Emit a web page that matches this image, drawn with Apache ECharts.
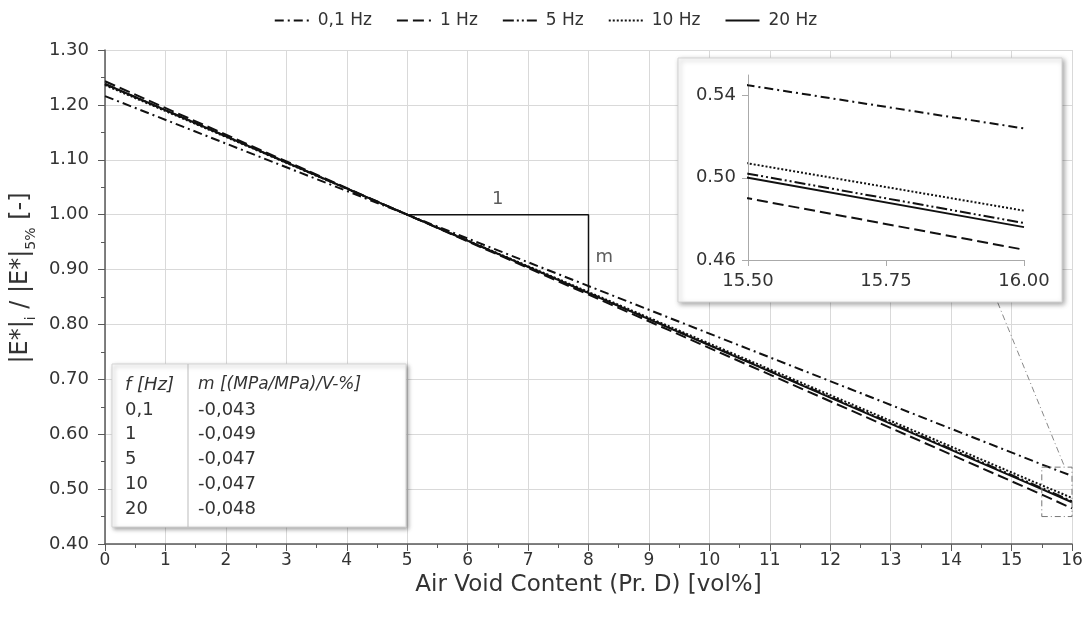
<!DOCTYPE html>
<html><head><meta charset="utf-8">
<script src="https://cdn.jsdelivr.net/npm/echarts@6/dist/echarts.min.js"></script>
<style>html,body{margin:0;padding:0;background:#fff}#c{width:1091px;height:623px}</style>
</head><body><div id="c"></div>
<script>
// Air void content (x) sample points
const xVals = [0, 5, 15.5, 16];
// Normalized modulus |E*|i/|E*|5% per frequency
const s01 = [1.216, 1.0, 0.545, 0.524];
const s1  = [1.243, 1.0, 0.490, 0.465];
const s5  = [1.238, 1.0, 0.502, 0.478];
const s10 = [1.236, 1.0, 0.507, 0.484];
const s20 = [1.238, 1.0, 0.500, 0.476];
const names = ['0,1 Hz', '1 Hz', '5 Hz', '10 Hz', '20 Hz'];
const freqs = ['0,1', '1', '5', '10', '20'];
const slopes = ['-0,043', '-0,049', '-0,047', '-0,047', '-0,048'];
const xTicks = [0,1,2,3,4,5,6,7,8,9,10,11,12,13,14,15,16];
const yTicks = [0.4,0.5,0.6,0.7,0.8,0.9,1.0,1.1,1.2,1.3];
const insetX = [15.5, 15.75, 16.0];
const insetY = [0.46, 0.50, 0.54];
// slope triangle (data coords)
const triangle = [[5, 1.0], [8, 1.0], [8, 0.86]];
// zoom box and connector (data coords)
const zoomBox = [[15.5,0.45],[16,0.45],[16,0.54],[15.5,0.54],[15.5,0.45]];
const connector = [[14.77,0.84],[15.88,0.54]];

const FONT = 'DejaVu Sans';
const TXT = '#333';
const styles = [
  {type:[9,4,2,4], width:2},
  {type:[11,5], width:2},
  {type:[11,3,2,3,2,3], width:2},
  {type:[2,2], width:2},
  {type:'solid', width:2}
];
const all = [s01, s1, s5, s10, s20];
const pts = arr => xVals.map((x,i)=>[x, arr[i]]);

const series = [];
all.forEach((arr,i)=>{
  series.push({name:names[i], type:'line', xAxisIndex:0, yAxisIndex:0, data:pts(arr),
    symbol:'none', silent:true, lineStyle:Object.assign({color:'#111'}, styles[i]),
    itemStyle:{color:'#111', opacity:0}, z:3});
});
all.forEach((arr,i)=>{
  series.push({name:names[i]+' inset', type:'line', xAxisIndex:1, yAxisIndex:1, data:pts(arr),
    symbol:'none', silent:true, lineStyle:Object.assign({color:'#111'}, styles[i]), z:12});
});
series.push({name:'tri', type:'line', xAxisIndex:0, yAxisIndex:0, data:triangle, symbol:'none',
  lineStyle:{color:'#111', width:1.5}, z:4, silent:true});
series.push({name:'box', type:'line', xAxisIndex:0, yAxisIndex:0, data:zoomBox, symbol:'none',
  lineStyle:{color:'#777', width:1, type:[6,3,1,3]}, z:4, silent:true});
series.push({name:'conn', type:'line', xAxisIndex:0, yAxisIndex:0, data:connector, symbol:'none',
  lineStyle:{color:'#888', width:1, type:[6,3,1,3]}, z:4, silent:true});
series.push({name:'lbl', type:'scatter', xAxisIndex:0, yAxisIndex:0, symbolSize:0, silent:true, z:5,
  data:[{value:[6.5,1.0], label:{formatter:'1', position:'top', distance:6}},
        {value:[8.0,0.93], label:{formatter:'m', position:'right', distance:7, offset:[0,4]}}],
  label:{show:true, color:TXT, fontFamily:FONT, fontSize:18}});

const tableChildren = [
  {type:'rect', z:20, shape:{x:0,y:0,width:294,height:163}, style:{fill:'#fff', stroke:'#d4d4d4', lineWidth:1,
    shadowBlur:4, shadowOffsetX:2, shadowOffsetY:2, shadowColor:'rgba(0,0,0,0.35)'}},
  {type:'line', z:21, shape:{x1:76,y1:0,x2:76,y2:163}, style:{stroke:'#bbb', lineWidth:1}},
  {type:'text', z:21, x:13, y:21, style:{text:'f [Hz]', fontFamily:FONT, fontSize:18, fontStyle:'italic', fill:TXT, verticalAlign:'middle'}},
  {type:'text', z:21, x:86, y:21, style:{text:'m [(MPa/MPa)/V-%]', fontFamily:FONT, fontSize:17, fontStyle:'italic', fill:TXT, verticalAlign:'middle'}}
];
freqs.forEach((f,i)=>{
  tableChildren.push({type:'text', z:21, x:13, y:46+i*24.8, style:{text:f, fontFamily:FONT, fontSize:18, fill:TXT, verticalAlign:'middle'}});
  tableChildren.push({type:'text', z:21, x:86, y:46+i*24.8, style:{text:slopes[i], fontFamily:FONT, fontSize:18, fill:TXT, verticalAlign:'middle'}});
});

const option = {
  animation:false,
  backgroundColor:'#fff',
  textStyle:{fontFamily:FONT},
  legend:{data:names, top:7, left:'center', itemWidth:34, itemHeight:10, itemGap:24,
    itemStyle:{opacity:0},
    textStyle:{fontFamily:FONT, fontSize:17, color:TXT, padding:[0,0,0,4]}, selectedMode:false},
  grid:[
    {left:105, right:19, top:50, bottom:79},
    {left:748, right:67, top:75, bottom:363, z:10}
  ],
  xAxis:[
    {type:'value', gridIndex:0, min:0, max:16, interval:1,
     name:'Air Void Content (Pr. D) [vol%]', nameLocation:'middle', nameGap:30,
     nameTextStyle:{fontFamily:FONT, fontSize:23, color:TXT},
     axisLine:{show:true, lineStyle:{color:'#595959', width:1.5}},
     axisTick:{show:true, length:7, lineStyle:{color:'#595959'}},
     minorTick:{show:true, splitNumber:2, length:4, lineStyle:{color:'#595959'}},
     axisLabel:{customValues:xTicks, fontFamily:FONT, fontSize:17, color:TXT, margin:8},
     splitLine:{show:true, lineStyle:{color:'#d9d9d9', width:1}}},
    {type:'value', gridIndex:1, min:15.5, max:16, interval:0.25, z:12,
     axisLine:{show:true, lineStyle:{color:'#aaa', width:1}},
     axisTick:{show:true, length:6, lineStyle:{color:'#aaa'}},
     axisLabel:{customValues:insetX, formatter:v=>v.toFixed(2), fontFamily:FONT, fontSize:18, color:TXT, margin:12},
     splitLine:{show:false}}
  ],
  yAxis:[
    {type:'value', gridIndex:0, min:0.4, max:1.3, interval:0.1,
     name:'{a||E*|}{s|i}{a| / |E*|}{s|5%}{a| [-]}', nameLocation:'middle', nameGap:62,
     nameTextStyle:{fontFamily:FONT, color:TXT, padding:[0,0,0,38],
       rich:{a:{fontFamily:FONT, fontSize:24, color:TXT, verticalAlign:'bottom', lineHeight:30},
             s:{fontFamily:FONT, fontSize:14, color:TXT, verticalAlign:'bottom', lineHeight:30, padding:[0,0,-5,0]}}},
     axisLine:{show:true, lineStyle:{color:'#595959', width:1.5}},
     axisTick:{show:true, length:7, lineStyle:{color:'#595959'}},
     minorTick:{show:true, splitNumber:2, length:4, lineStyle:{color:'#595959'}},
     axisLabel:{customValues:yTicks, formatter:v=>v.toFixed(2), fontFamily:FONT, fontSize:18, color:TXT, margin:16},
     splitLine:{show:true, lineStyle:{color:'#d9d9d9', width:1}}},
    {type:'value', gridIndex:1, min:0.46, max:0.55, z:12,
     axisLine:{show:true, lineStyle:{color:'#aaa', width:1}},
     axisTick:{show:true, length:6, customValues:insetY, lineStyle:{color:'#aaa'}},
     axisLabel:{customValues:insetY, formatter:v=>v.toFixed(2), fontFamily:FONT, fontSize:18, color:TXT, margin:12},
     splitLine:{show:false}}
  ],
  graphic:[
    {type:'rect', z:8, shape:{x:678,y:58,width:384,height:244},
     style:{fill:'#fff', stroke:'#d4d4d4', lineWidth:1, shadowBlur:5, shadowOffsetX:2, shadowOffsetY:2, shadowColor:'rgba(0,0,0,0.35)'}},
    {type:'group', x:112, y:364, z:20, children:tableChildren}
  ],
  series:series
};
const chart = echarts.init(document.getElementById('c'), null, {renderer:'canvas'});
chart.setOption(option);
</script></body></html>
